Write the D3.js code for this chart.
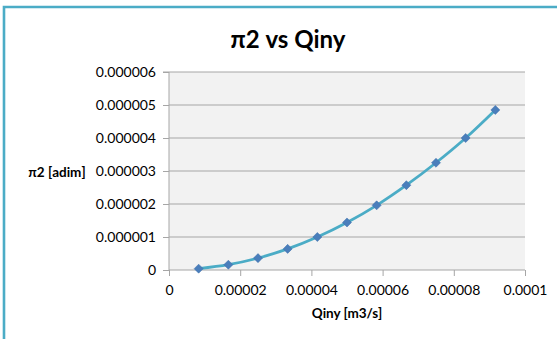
<!DOCTYPE html>
<html>
<head>
<meta charset="utf-8">
<script src="https://cdn.jsdelivr.net/npm/d3@7/dist/d3.min.js"></script>
<style>
  html, body { margin: 0; padding: 0; background: #fff; }
  svg { display: block; font-family: Lato, "Open Sans", sans-serif; }
</style>
</head>
<body>
<svg id="chart" width="557" height="339"></svg>
<script>
// Flow rate Qiny [m3/s] and dimensionless group π2
const qiny = [0.00000833, 0.00001667, 0.000025, 0.00003333, 0.00004167, 0.00005,
              0.00005833, 0.00006667, 0.000075, 0.00008333, 0.00009167];
const pi2 = [0.00000004, 0.00000016, 0.00000036, 0.00000064, 0.000001, 0.00000144,
             0.00000196, 0.00000257, 0.00000325, 0.000004, 0.00000485];

const xTicks = [0, 0.00002, 0.00004, 0.00006, 0.00008, 0.0001];
const xTickLabels = ["0", "0.00002", "0.00004", "0.00006", "0.00008", "0.0001"];
const yTicks = [0, 0.000001, 0.000002, 0.000003, 0.000004, 0.000005, 0.000006];
const yTickLabels = ["0", "0.000001", "0.000002", "0.000003", "0.000004", "0.000005", "0.000006"];

const svg = d3.select("#chart");
const plot = { left: 169, right: 525, top: 72, bottom: 270 };

const x = d3.scaleLinear().domain([0, 0.0001]).range([plot.left, plot.right]);
const y = d3.scaleLinear().domain([0, 0.000006]).range([plot.bottom, plot.top]);

// chart frame (top and left edges)
svg.append("path")
  .attr("d", `M4,339 L4,7 L557,7`)
  .attr("fill", "none")
  .attr("stroke", "#4bacc6")
  .attr("stroke-width", 2.6);

// title
svg.append("text")
  .attr("x", 288).attr("y", 48)
  .attr("text-anchor", "middle")
  .attr("font-size", 24).attr("font-weight", "bold")
  .attr("fill", "#000")
  .text("π2 vs Qiny");

// plot area background
svg.append("rect")
  .attr("x", plot.left).attr("y", plot.top)
  .attr("width", plot.right - plot.left).attr("height", plot.bottom - plot.top)
  .attr("fill", "#f2f2f2");

// horizontal gridlines
svg.append("g")
  .selectAll("line")
  .data(yTicks.filter(d => d > 0))
  .join("line")
  .attr("x1", plot.left).attr("x2", plot.right)
  .attr("y1", d => y(d)).attr("y2", d => y(d))
  .attr("stroke", "#a6a6a6").attr("stroke-width", 1);

// y axis
const yAxis = d3.axisLeft(y)
  .tickValues(yTicks)
  .tickFormat((d, i) => yTickLabels[i])
  .tickSize(6).tickPadding(7);
const gy = svg.append("g").attr("transform", `translate(${plot.left},0)`).call(yAxis);
gy.select(".domain").attr("stroke", "#a6a6a6").attr("d", `M-6,${plot.top}H0V${plot.bottom}`);
gy.selectAll(".tick line").attr("stroke", "#a6a6a6");
gy.selectAll(".tick text").attr("font-size", 14).attr("fill", "#000")
  .attr("font-family", "Lato, 'Open Sans', sans-serif");

// x axis
const xAxis = d3.axisBottom(x)
  .tickValues(xTicks)
  .tickFormat((d, i) => xTickLabels[i])
  .tickSize(6).tickPadding(9);
const gx = svg.append("g").attr("transform", `translate(0,${plot.bottom})`).call(xAxis);
gx.select(".domain").attr("stroke", "#a6a6a6").attr("d", `M${plot.left},0H${plot.right}`);
gx.selectAll(".tick line").attr("stroke", "#a6a6a6");
gx.selectAll(".tick text").attr("font-size", 14).attr("fill", "#000")
  .attr("font-family", "Lato, 'Open Sans', sans-serif");

// axis titles
svg.append("text")
  .attr("x", 57).attr("y", 177)
  .attr("text-anchor", "middle")
  .attr("font-size", 13.5).attr("font-weight", "bold")
  .text("π2 [adim]");

svg.append("text")
  .attr("x", 347).attr("y", 318)
  .attr("text-anchor", "middle")
  .attr("font-size", 13.5).attr("font-weight", "bold")
  .text("Qiny [m3/s]");

// smoothed series line
const pts = qiny.map((q, i) => [q, pi2[i]]);
const line = d3.line()
  .x(d => x(d[0])).y(d => y(d[1]))
  .curve(d3.curveCatmullRom.alpha(0.5));
svg.append("path")
  .datum(pts)
  .attr("d", line)
  .attr("fill", "none")
  .attr("stroke", "#4bacc6")
  .attr("stroke-width", 2.8)
  .attr("stroke-linecap", "round");

// diamond markers
const diamond = d3.symbol().type(d3.symbolDiamond2).size(52);
svg.append("g")
  .selectAll("path")
  .data(pts)
  .join("path")
  .attr("transform", d => `translate(${x(d[0])},${y(d[1])})`)
  .attr("d", diamond)
  .attr("fill", "#4a7ebb")
  .attr("stroke", "#3d6faa")
  .attr("stroke-width", 0.5);
</script>
</body>
</html>
